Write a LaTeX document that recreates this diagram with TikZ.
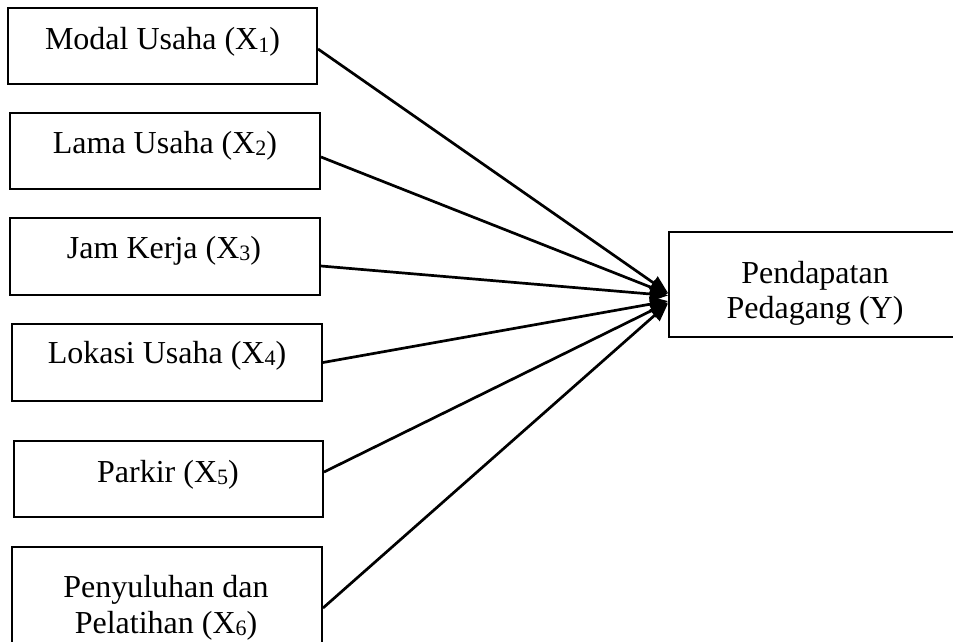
\documentclass[tikz,border=0pt]{standalone}
\usepackage{fontspec}
\setmainfont{Liberation Serif}
\usetikzlibrary{arrows.meta}
\newcommand\lowidx[1]{\raisebox{-2pt}{\fontsize{22}{22}\selectfont #1}}
\begin{document}
\begin{tikzpicture}[x=1pt,y=-1pt,
  box/.style={draw, line width=2pt, rectangle, inner sep=0pt},
  lbl/.style={font=\fontsize{32}{37}\selectfont, anchor=base, inner sep=0pt},
  conn/.style={line width=2.7pt, -{Triangle[length=18pt,width=15pt]}}]
\useasboundingbox (0,0) rectangle (953,642);
\clip (0,0) rectangle (953,642);
% boxes
\node[box, minimum width=309pt, minimum height=76pt] (b1) at (162.5,46) {};
\node[box, minimum width=310pt, minimum height=76pt] (b2) at (165,151) {};
\node[box, minimum width=310pt, minimum height=77pt] (b3) at (165,256.5) {};
\node[box, minimum width=310pt, minimum height=77pt] (b4) at (167,362.5) {};
\node[box, minimum width=309pt, minimum height=76pt] (b5) at (168.5,479) {};
\node[box, minimum width=310pt, minimum height=113pt] (b6) at (167,603.5) {};
\node[box, minimum width=293pt, minimum height=105pt] (y) at (815.5,284.5) {};
% labels
\node[lbl] (t1) at (162.5,50) {Modal Usaha (X\lowidx{1})};
\node[lbl] (t2) at (165,153) {Lama Usaha (X\lowidx{2})};
\node[lbl] (t3) at (164,258) {Jam Kerja (X\lowidx{3})};
\node[lbl] (t4) at (167,363) {Lokasi Usaha (X\lowidx{4})};
\node[lbl] (t5) at (168,482) {Parkir (X\lowidx{5})};
\node[lbl] (t6a) at (166,597) {Penyuluhan dan};
\node[lbl] (t6b) at (166,633) {Pelatihan (X\lowidx{6})};
\node[lbl] (ya) at (815,283) {Pendapatan};
\node[lbl] (yb) at (815,318) {Pedagang (Y)};
% connectors
\draw[conn] ([yshift=-3pt]b1.east) -- ([yshift=-8.5pt]y.west);
\draw[conn] ([yshift=-6pt]b2.east) -- ([yshift=-9.5pt]y.west);
\draw[conn] ([yshift=-9.5pt]b3.east) -- ([yshift=-11pt]y.west);
\draw[conn] (b4.east) -- ([yshift=-16.5pt]y.west);
\draw[conn] ([yshift=7pt]b5.east) -- ([yshift=-18pt]y.west);
\draw[conn] ([yshift=-4.5pt]b6.east) -- ([yshift=-19pt]y.west);
\end{tikzpicture}
\end{document}
